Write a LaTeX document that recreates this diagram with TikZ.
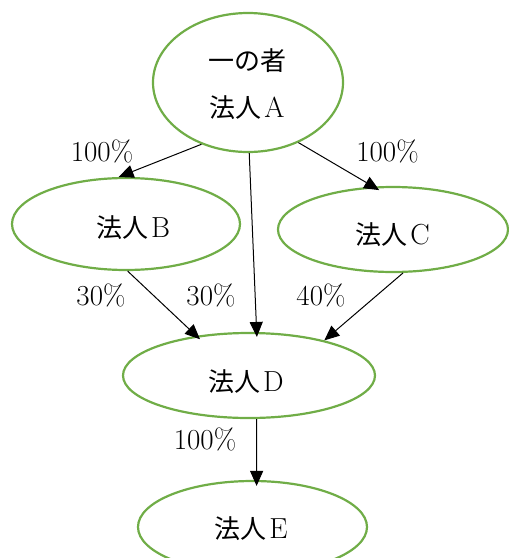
\documentclass[tikz,border=0pt]{standalone}
\usepackage{fontspec}
\newfontfamily\cjk{Noto Sans CJK JP}
\usetikzlibrary{arrows.meta,shapes.geometric}
\definecolor{ovalgreen}{HTML}{70AD47}
\newcommand{\hj}[1]{{\cjk\fontsize{26}{30}\selectfont 法人}\kern3pt #1}
\tikzset{
  oval/.style={draw=ovalgreen, line width=2.2pt, ellipse, inner sep=0pt},
  txt/.style={font=\fontsize{29}{46}\selectfont, inner sep=0pt, anchor=base},
  pct/.style={font=\fontsize{29}{34}\selectfont, inner sep=0pt, anchor=base},
  conn/.style={draw=black, line width=1pt, -{Triangle[length=15pt,width=13pt]}}
}
\begin{document}
\begin{tikzpicture}[x=1pt,y=-1pt]
\useasboundingbox (0,0) rectangle (509,558);
\clip (0,0) rectangle (509,558);
\node[oval, minimum width=190pt, minimum height=139pt] (A) at (248,82.5) {};
\node[oval, minimum width=228pt, minimum height=92pt] (B) at (126,224) {};
\node[oval, minimum width=230pt, minimum height=85pt] (C) at (393,229.5) {};
\node[oval, minimum width=252pt, minimum height=85pt] (D) at (249,375.5) {};
\node[oval, minimum width=229pt, minimum height=92pt] (E) at (252.5,527) {};
% texts
\node[txt] (At1) at (247,70) {{\cjk\fontsize{26}{30}\selectfont 一の者}};
\node[txt] (At2) at (247,117) {\hj{A}};
\node[txt] (Bt) at (133,237) {\hj{B}};
\node[txt] (Ct) at (392.5,244) {\hj{C}};
\node[txt] (Dt) at (246,391) {\hj{D}};
\node[txt] (Et) at (251,538) {\hj{E}};
% percentages
\node[pct] (pAB) at (102,161) {100\%};
\node[pct] (pAC) at (387.5,161) {100\%};
\node[pct] (pBD) at (101,305) {30\%};
\node[pct] (pAD) at (211,305) {30\%};
\node[pct] (pCD) at (321,305) {40\%};
\node[pct] (pDE) at (205,449) {100\%};
% connectors
\draw[conn] (A.233) -- (B.99);
\draw[conn] (A.310) -- ([shift={(-3pt,-4pt)}]C.104);
\draw[conn, shorten >=-5pt] (A.271) -- (D.80);
\draw[conn, shorten >=-5pt] (B.272) -- (D.143);
\draw[conn] (C.283) -- (D.25);
\draw[conn, shorten >=-6pt] (D.280) -- (E.85);
\end{tikzpicture}
\end{document}
